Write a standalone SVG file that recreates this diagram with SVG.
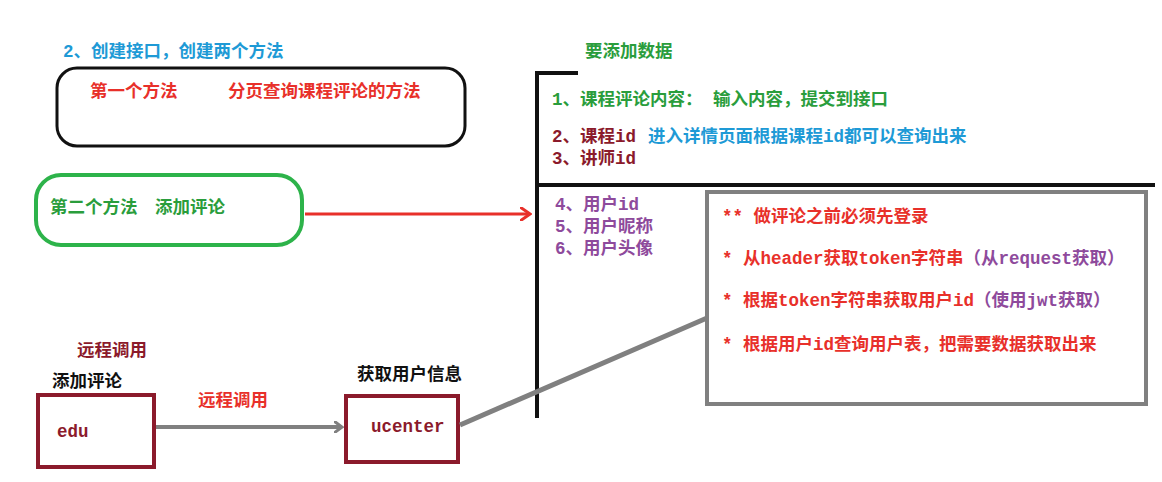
<svg xmlns="http://www.w3.org/2000/svg" width="1162" height="482" viewBox="0 0 1162 482">
<style>
text{font-family:"Liberation Mono","Noto Sans CJK SC",monospace;font-weight:bold;font-size:17.5px}
.b{fill:#1e9ad6}.r{fill:#e8302a}.g{fill:#2a9d3c}.d{fill:#8b1a2b}.p{fill:#8e4a9c}.k{fill:#111}
</style>
<defs>
<marker id="ar" markerWidth="12" markerHeight="14" refX="10" refY="7" orient="auto" markerUnits="userSpaceOnUse"><path d="M0,0 L10,7 L0,14" fill="none" stroke="#e8302a" stroke-width="3"/></marker>
<marker id="ag" markerWidth="10" markerHeight="12" refX="8" refY="6" orient="auto" markerUnits="userSpaceOnUse"><path d="M0,0 L8,6 L0,12" fill="none" stroke="#808080" stroke-width="3"/></marker>
</defs>
<rect width="1162" height="482" fill="#fff"/>
<text class="b" x="63" y="57">2、创建接口，创建两个方法</text>
<g id="method1"><rect x="57" y="68" width="408" height="78" rx="20" fill="none" stroke="#111" stroke-width="3"/>
<text class="r" x="90" y="97">第一个方法</text><text class="r" x="228" y="97">分页查询课程评论的方法</text></g>
<g id="method2"><rect x="36" y="175" width="266" height="70" rx="25" fill="none" stroke="#2db34a" stroke-width="4"/>
<text class="g" x="50" y="213">第二个方法　添加评论</text></g>
<g id="data">
<text class="g" x="585" y="57">要添加数据</text>
<path d="M578,73 H537 V418 M537,185 H1155" fill="none" stroke="#111" stroke-width="4"/>
<text class="g" x="552" y="105">1、课程评论内容： 输入内容，提交到接口</text>
<text class="d" x="552" y="142">2、课程id</text><text class="b" x="648" y="142">进入详情页面根据课程id都可以查询出来</text>
<text class="d" x="552" y="164">3、讲师id</text>
<text class="p" x="555" y="210">4、用户id</text>
<text class="p" x="555" y="232">5、用户昵称</text>
<text class="p" x="555" y="254">6、用户头像</text>
</g>
<g id="notes"><rect x="707" y="192" width="439" height="212" fill="#fff" stroke="#808080" stroke-width="4"/>
<text class="r" x="722" y="222">** 做评论之前必须先登录</text>
<text class="r" x="722" y="264">* 从header获取token字符串<tspan class="p">（从request获取）</tspan></text>
<text class="r" x="722" y="306">* 根据token字符串获取用户id<tspan class="p">（使用jwt获取）</tspan></text>
<text class="r" x="722" y="350">* 根据用户id查询用户表，把需要数据获取出来</text>
</g>
<g id="edu"><text class="d" x="77" y="356">远程调用</text><text class="k" x="52" y="387">添加评论</text>
<rect x="38" y="395" width="116" height="72" fill="none" stroke="#8b1a2b" stroke-width="4"/><text class="d" x="57" y="437">edu</text></g>
<g id="ucenter"><text class="k" x="357" y="380">获取用户信息</text>
<rect x="346" y="396" width="112" height="66" fill="none" stroke="#8b1a2b" stroke-width="4"/><text class="d" x="371" y="432">ucenter</text></g>
<g id="connectors">
<line x1="305" y1="214" x2="530" y2="214" stroke="#e8302a" stroke-width="3" marker-end="url(#ar)"/>
<line x1="156" y1="427" x2="342" y2="427" stroke="#808080" stroke-width="4" marker-end="url(#ag)"/>
<text class="r" x="198" y="406">远程调用</text>
<line x1="460" y1="425" x2="707" y2="318" stroke="#808080" stroke-width="5"/>
</g>
</svg>
